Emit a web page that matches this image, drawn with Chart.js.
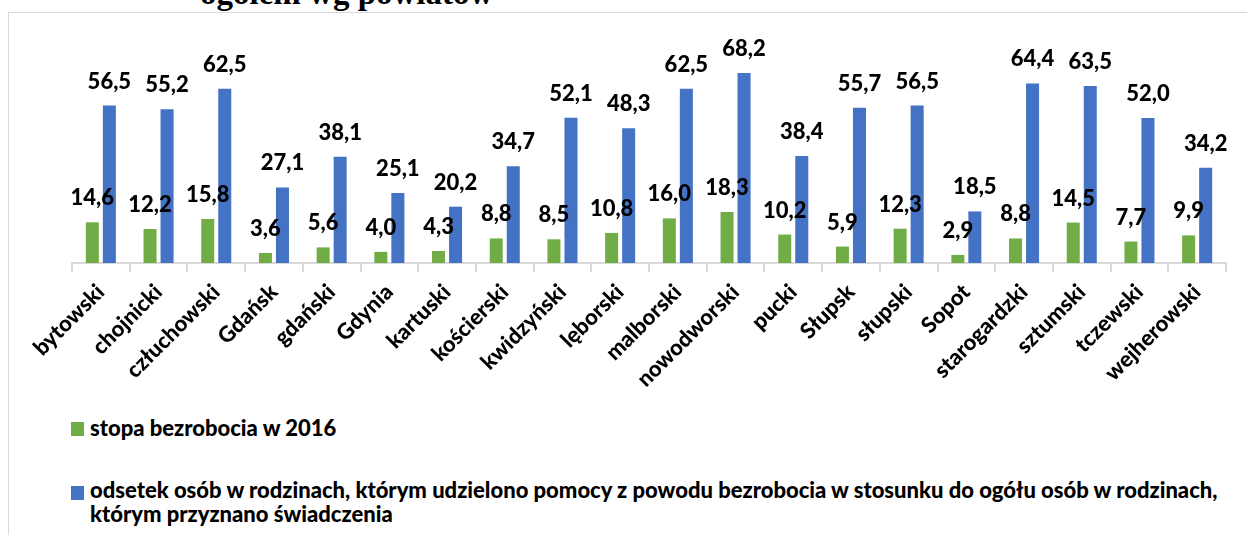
<!DOCTYPE html>
<html lang="pl">
<head>
<meta charset="utf-8">
<title>Bezrobocie wg powiatów</title>
<script src="https://cdn.jsdelivr.net/npm/chart.js@4.4.1/dist/chart.umd.min.js"></script>
<style>
    html, body { margin: 0; padding: 0; background: #fff; overflow: hidden; }
    body { width: 1247px; height: 535px; position: relative; font-family: 'Lato', sans-serif; }
    #frame {
        position: absolute; left: 8px; top: 12px; width: 1300px; height: 600px;
        border-left: 1px solid #d9d9d9; border-top: 1px solid #d9d9d9;
    }
    #title {
        position: absolute; left: 200px; top: -27px; white-space: nowrap;
        font-family: 'Liberation Serif', serif; font-weight: bold; font-size: 33px; color: #000;
        line-height: 40px;
    }
    #chart-wrap { position: absolute; left: 0; top: 0; width: 1247px; height: 400px; }
    .legend-item {
        position: absolute; left: 90px; font-weight: 900; font-size: 22px;
        line-height: 24px; color: #000; white-space: nowrap;
    }
    .legend-box { position: absolute; left: 71px; width: 13px; height: 14px; }
</style>
</head>
<body>
<div id="frame"></div>
<div id="title">ogółem wg powiatów</div>
<div id="chart-wrap"><canvas id="chart-powiaty"></canvas></div>

<div class="legend-box" id="box-stopa" style="top: 422px;"></div>
<div class="legend-item" id="lbl-stopa" style="top: 416px;"></div>
<div class="legend-box" id="box-odsetek" style="top: 486px;"></div>
<div class="legend-item" id="lbl-odsetek" style="top: 478px;"></div>

<script>
// Dane
const powiaty = ['bytowski', 'chojnicki', 'człuchowski', 'Gdańsk', 'gdański', 'Gdynia', 'kartuski',
    'kościerski', 'kwidzyński', 'lęborski', 'malborski', 'nowodworski', 'pucki', 'Słupsk', 'słupski',
    'Sopot', 'starogardzki', 'sztumski', 'tczewski', 'wejherowski'];
const stopaBezrobocia = [14.6, 12.2, 15.8, 3.6, 5.6, 4.0, 4.3, 8.8, 8.5, 10.8, 16.0, 18.3, 10.2, 5.9, 12.3,
    2.9, 8.8, 14.5, 7.7, 9.9];
const odsetekOsob = [56.5, 55.2, 62.5, 27.1, 38.1, 25.1, 20.2, 34.7, 52.1, 48.3, 62.5, 68.2, 38.4, 55.7, 56.5,
    18.5, 64.4, 63.5, 52.0, 34.2];

const LABEL_STOPA = 'stopa bezrobocia w 2016';
const LABEL_ODSETEK_1 = 'odsetek osób w rodzinach, którym udzielono pomocy z powodu bezrobocia w stosunku do ogółu osób w rodzinach,';
const LABEL_ODSETEK_2 = 'którym przyznano świadczenia';

const COLOR_GREEN = '#70ad47';
const COLOR_BLUE = '#4472c4';
const FONT = "'Lato', sans-serif";

// Legenda w HTML (druga pozycja zawija się na dwie linie)
document.getElementById('box-stopa').style.background = COLOR_GREEN;
document.getElementById('box-odsetek').style.background = COLOR_BLUE;
document.getElementById('lbl-stopa').textContent = LABEL_STOPA;
const lblOdsetek = document.getElementById('lbl-odsetek');
lblOdsetek.appendChild(document.createTextNode(LABEL_ODSETEK_1));
lblOdsetek.appendChild(document.createElement('br'));
lblOdsetek.appendChild(document.createTextNode(LABEL_ODSETEK_2));

// Etykiety wartości nad słupkami (format z przecinkiem)
const valueLabels = {
    id: 'valueLabels',
    afterDatasetsDraw(chart) {
        const ctx = chart.ctx;
        ctx.save();
        ctx.font = `900 22px ${FONT}`;
        ctx.fillStyle = '#000';
        ctx.textAlign = 'center';
        ctx.textBaseline = 'alphabetic';
        chart.data.datasets.forEach((ds, i) => {
            chart.getDatasetMeta(i).data.forEach((bar, j) => {
                const txt = ds.data[j].toFixed(1).replace('.', ',');
                ctx.fillText(txt, bar.x, bar.y - 17);
            });
        });
        ctx.restore();
    }
};

const ctx = document.getElementById('chart-powiaty').getContext('2d');
new Chart(ctx, {
    type: 'bar',
    data: {
        labels: powiaty,
        datasets: [
            {
                label: LABEL_STOPA,
                data: stopaBezrobocia,
                backgroundColor: COLOR_GREEN,
                categoryPercentage: 0.59,
                barPercentage: 0.765
            },
            {
                label: LABEL_ODSETEK_1 + ' ' + LABEL_ODSETEK_2,
                data: odsetekOsob,
                backgroundColor: COLOR_BLUE,
                categoryPercentage: 0.59,
                barPercentage: 0.765
            }
        ]
    },
    options: {
        responsive: true,
        maintainAspectRatio: false,
        animation: false,
        layout: { padding: { left: 72, right: 21, top: 40, bottom: 0 } },
        scales: {
            y: {
                display: false,
                min: 0,
                max: 80
            },
            x: {
                afterFit: (scale) => { scale.height = 137; },
                grid: {
                    display: true,
                    drawOnChartArea: false,
                    drawTicks: true,
                    tickLength: 9,
                    color: '#d9d9d9',
                    lineWidth: 2
                },
                border: { display: true, color: '#d9d9d9', width: 2 },
                ticks: {
                    color: '#000',
                    minRotation: 45,
                    maxRotation: 45,
                    autoSkip: false,
                    padding: 7,
                    font: { family: FONT, size: 22, weight: '900' }
                }
            }
        },
        plugins: {
            legend: { display: false },
            tooltip: { enabled: false }
        }
    },
    plugins: [valueLabels]
});
</script>
</body>
</html>
